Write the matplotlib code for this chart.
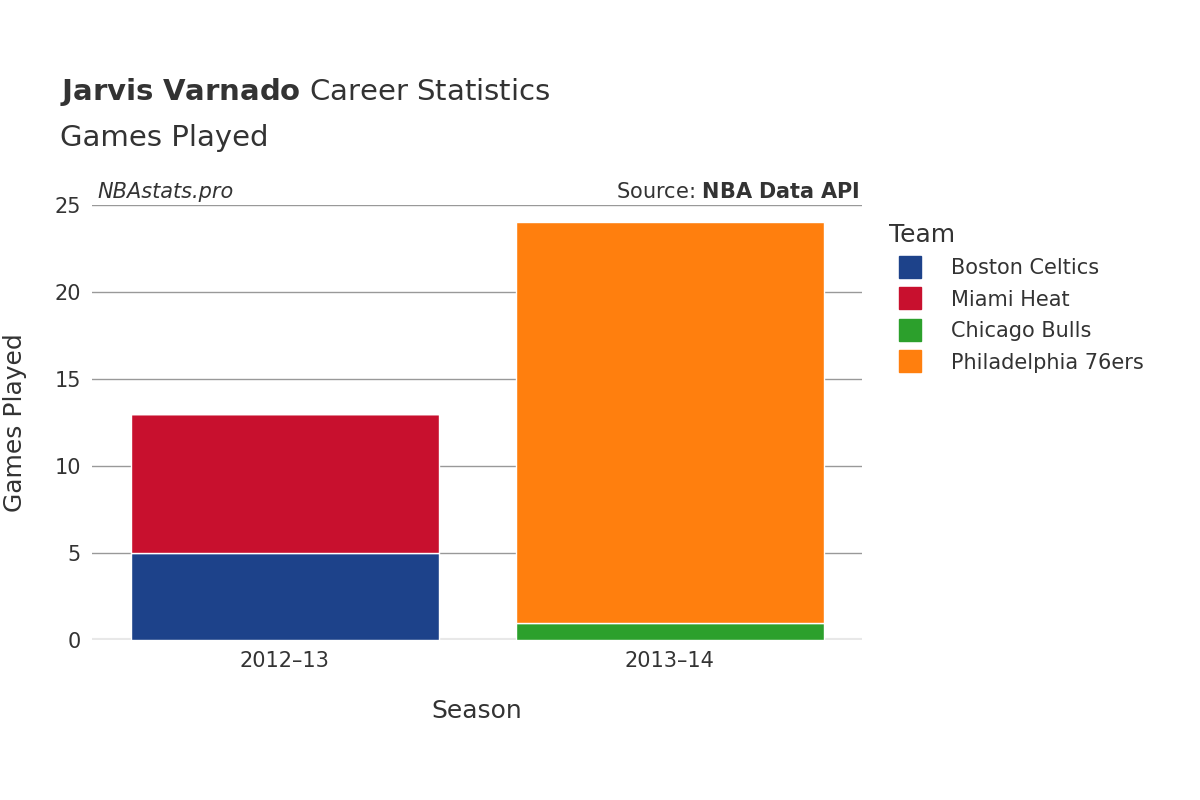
import matplotlib.pyplot as plt
from matplotlib.lines import Line2D
import numpy as np

seasons = ['2012–13', '2013–14']
teams = ['Boston Celtics', 'Miami Heat', 'Chicago Bulls', 'Philadelphia 76ers']
colors = ['#1d428a', '#c8102e', '#2ca02c', '#ff7f0e']
games = {
    'Boston Celtics': [5, 0],
    'Miami Heat': [8, 0],
    'Chicago Bulls': [0, 1],
    'Philadelphia 76ers': [0, 23],
}

fig = plt.figure(figsize=(12, 8), dpi=100)
ax = fig.add_axes([0.0767, 0.2, 0.6417, 0.544])

x = np.arange(len(seasons))
bottom = np.zeros(len(seasons))
for team, color in zip(teams, colors):
    vals = np.array(games[team])
    ax.bar(x, vals, 0.8, bottom=bottom, color=color, edgecolor='white', linewidth=1, zorder=3)
    bottom += vals

ax.set_xlim(-0.5, 1.5)
ax.set_ylim(0, 25)
ax.set_yticks([0, 5, 10, 15, 20, 25])
ax.set_xticks(x)
ax.set_xticklabels(seasons)
ax.grid(axis='y', color='#999999', linewidth=1, zorder=0)
ax.axhline(0, color='#e8e8e8', linewidth=3, zorder=2)
for s in ax.spines.values():
    s.set_visible(False)
ax.tick_params(length=0, labelsize=15, colors='#333333', pad=8)
ax.set_xlabel('Season', fontsize=18, color='#333333', labelpad=20)
ax.set_ylabel('Games Played', fontsize=18, color='#333333', labelpad=20)

fig.text(0.05, 0.875, r'$\bf{Jarvis\ Varnado}$ Career Statistics', fontsize=21, color='#333333')
fig.text(0.05, 0.818, 'Games Played', fontsize=21, color='#333333')
fig.text(0.081, 0.752, 'NBAstats.pro', fontsize=15, style='italic', color='#333333')
fig.text(0.716, 0.752, r'Source: $\bf{NBA\ Data\ API}$', fontsize=15, color='#333333', ha='right')

handles = [Line2D([], [], marker='s', linestyle='', markersize=16, color=c) for c in colors]
leg = fig.legend(handles, teams, loc='upper left', bbox_to_anchor=(0.725, 0.745),
                 frameon=False, fontsize=15, title='Team', title_fontsize=18,
                 labelspacing=0.55, handletextpad=1.0, alignment='left')
for t in leg.get_texts():
    t.set_color('#333333')
leg.get_title().set_color('#333333')

fig.savefig('out.png')
